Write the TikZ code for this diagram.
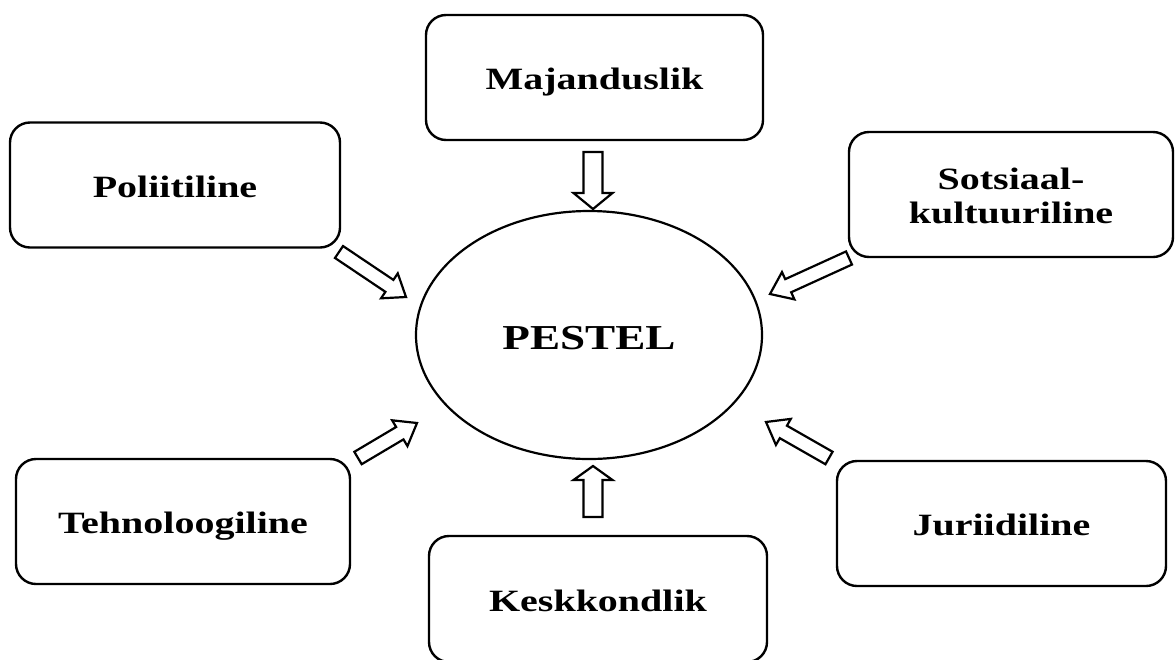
\documentclass[tikz,border=0pt]{standalone}
\usepackage{fontspec}
\setmainfont{Liberation Serif}[FakeStretch=1.29]
\usetikzlibrary{calc,shapes.geometric}
\tikzset{
  factor/.style={draw=black, line width=1.2pt, rounded corners=10pt, fill=white,
    align=center, inner sep=0pt, font=\fontsize{15.5}{17}\selectfont\bfseries},
  oneline/.style={text height=12.2pt, text depth=0pt},
  centre/.style={draw=black, line width=1.1pt, ellipse, inner sep=0pt,
    text height=14.6pt, text depth=0pt,
    font=\fontsize{17.5}{20}\selectfont\bfseries},
  arrowline/.style={draw=black, line width=1.1pt, fill=white, line join=miter}
}
% block arrow: tail, tip, half shaft, half head, head length
\newcommand\barrow[5]{%
  \coordinate (#1n) at ($(#2)!#5!(#1)$);
  \draw[arrowline] ($(#1)!#3!90:(#2)$) -- ($(#1n)!#3!90:(#2)$) -- ($(#1n)!#4!90:(#2)$)
    -- (#2) -- ($(#1n)!#4!-90:(#2)$) -- ($(#1n)!#3!-90:(#2)$) -- ($(#1)!#3!-90:(#2)$) -- cycle;
}
\begin{document}
\begin{tikzpicture}[x=0.5pt,y=-0.5pt]
\useasboundingbox (0,0) rectangle (1176,659);
% boxes
\node[factor, oneline, minimum width=168.5pt, minimum height=62.5pt] (maj) at (594.5,77.5) {Majanduslik};
\node[factor, oneline, minimum width=165pt, minimum height=62.5pt] (pol) at (175,185) {Poliitiline};
\node[factor, minimum width=162pt, minimum height=62.5pt] (sot) at (1011,194.5) {\rule{0pt}{12pt}Sotsiaal-\\kultuuriline};
\node[factor, oneline, minimum width=167pt, minimum height=62.5pt] (teh) at (183,521.5) {Tehnoloogiline};
\node[factor, oneline, minimum width=164.5pt, minimum height=62.5pt] (jur) at (1001.5,523.5) {Juriidiline};
\node[factor, oneline, minimum width=169pt, minimum height=63pt] (kes) at (598,599) {Keskkondlik};
% centre
\node[centre, minimum width=173pt, minimum height=124pt] (pestel) at (589,335) {PESTEL};
% arrow end points
\coordinate (majT) at (593,152);  \coordinate (majH) at (593,209);
\coordinate (kesT) at (593,517);  \coordinate (kesH) at (593,466);
\coordinate (polT) at (339,252);  \coordinate (polH) at (406,297);
\coordinate (sotT) at (849,258);  \coordinate (sotH) at (770,294);
\coordinate (tehT) at (358,458);  \coordinate (tehH) at (417,423);
\coordinate (jurT) at (829,458);  \coordinate (jurH) at (766,422);
% arrows
\barrow{majT}{majH}{4.75pt}{9.75pt}{8pt}
\barrow{kesT}{kesH}{4.75pt}{9.75pt}{7pt}
\barrow{polT}{polH}{3.6pt}{7.5pt}{10pt}
\barrow{sotT}{sotH}{3.6pt}{7.5pt}{10pt}
\barrow{tehT}{tehH}{3.6pt}{7.5pt}{10pt}
\barrow{jurT}{jurH}{3.6pt}{7.5pt}{10pt}
\end{tikzpicture}
\end{document}
